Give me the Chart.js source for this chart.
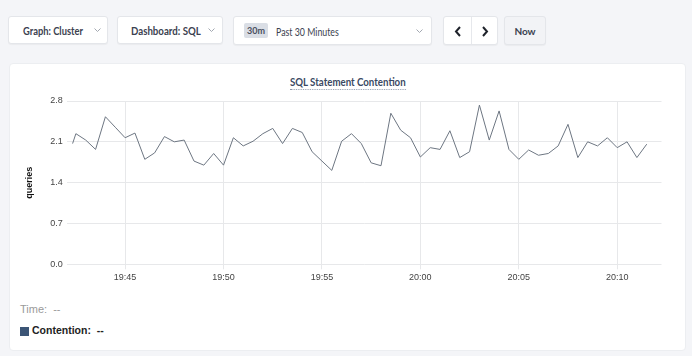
<!DOCTYPE html>
<html>
<head>
<meta charset="utf-8">
<script src="https://cdn.jsdelivr.net/npm/chart.js@4.4.1/dist/chart.umd.min.js"></script>
<style>
  html,body{margin:0;padding:0;}
  body{width:692px;height:356px;background:#f4f5f8;position:relative;overflow:hidden;font-family:Lato,"Open Sans",sans-serif;}
  .box{position:absolute;background:#fff;border:1px solid #e4e6ea;border-radius:3px;box-sizing:border-box;box-shadow:0 1px 1px rgba(0,0,0,0.04);}
  .lbl{position:absolute;top:50%;font-size:11px;font-weight:700;color:#3b4150;white-space:nowrap;transform-origin:0 50%;}
  .chev{position:absolute;top:50%;margin-top:-2px;}
  #card{position:absolute;left:9px;top:63px;width:677px;height:288px;background:#fff;border:1px solid #eceef1;border-radius:4px;box-sizing:border-box;}
  #title{position:absolute;left:0;width:100%;top:11px;text-align:center;font-size:11px;font-weight:700;color:#3a4963;}
  #title span{display:inline-block;border-bottom:1px dotted #8a95a8;padding-bottom:1px;transform:scaleX(0.88);}
  #cv{position:absolute;left:0;top:0;}
  .leg{position:absolute;font-family:"Liberation Sans",Arial,sans-serif;font-size:11px;white-space:nowrap;}
</style>
</head>
<body>
<div class="box" style="left:8px;top:16px;width:100px;height:28px;">
  <div class="lbl" style="left:14px;transform:translateY(-50%) scaleX(0.85);">Graph: Cluster</div>
  <svg class="chev" style="left:85px" width="7" height="4"><polyline points="0.5,0.5 3.5,3.5 6.5,0.5" fill="none" stroke="#a3a8b1" stroke-width="1"/></svg>
</div>
<div class="box" style="left:117px;top:16px;width:106px;height:28px;">
  <div class="lbl" style="left:13px;transform:translateY(-50%) scaleX(0.88);">Dashboard: SQL</div>
  <svg class="chev" style="left:90px" width="7" height="4"><polyline points="0.5,0.5 3.5,3.5 6.5,0.5" fill="none" stroke="#a3a8b1" stroke-width="1"/></svg>
</div>
<div class="box" style="left:233px;top:16px;width:199px;height:29px;">
  <div style="position:absolute;left:10px;top:6px;width:24px;height:15px;background:#dadee5;border-radius:2px;font-size:9px;font-weight:700;color:#4a5060;text-align:center;line-height:15px;">30m</div>
  <div class="lbl" style="left:42px;font-weight:400;color:#3b4150;transform:translateY(-50%) scaleX(0.8);">Past 30 Minutes</div>
  <svg class="chev" style="left:182px" width="7" height="4"><polyline points="0.5,0.5 3.5,3.5 6.5,0.5" fill="none" stroke="#a3a8b1" stroke-width="1"/></svg>
</div>
<div class="box" style="left:443px;top:16px;width:55px;height:29px;">
  <div style="position:absolute;left:27px;top:0;width:1px;height:27px;background:#e6e8ec;"></div>
  <svg style="position:absolute;left:10px;top:9px" width="8" height="11"><polyline points="6,1 2,5.5 6,10" fill="none" stroke="#1f232b" stroke-width="2"/></svg>
  <svg style="position:absolute;left:37px;top:9px" width="8" height="11"><polyline points="2,1 6,5.5 2,10" fill="none" stroke="#1f232b" stroke-width="2"/></svg>
</div>
<div class="box" style="left:504px;top:16px;width:42px;height:29px;background:#f2f3f6;">
  <div class="lbl" style="left:0;width:100%;text-align:center;font-size:10px;transform:translateY(-50%);">Now</div>
</div>

<div id="card">
  <div id="title"><span>SQL Statement Contention</span></div>
  <canvas id="cv" width="675" height="230"></canvas>
  <div class="leg" style="left:10px;top:239px;color:#9a9a9a;">Time:&nbsp; --</div>
  <div style="position:absolute;left:10px;top:263px;width:9px;height:9px;background:#3c5576;"></div>
  <div class="leg" style="left:22px;top:260px;color:#222;font-weight:700;font-size:10.5px;">Contention:&nbsp; --</div>
</div>

<script>
// ---- data ----
const sampleTimes = [
  "19:42:20","19:42:30","19:43:00","19:43:30","19:44:00","19:44:30","19:45:00","19:45:30",
  "19:46:00","19:46:30","19:47:00","19:47:30","19:48:00","19:48:30","19:49:00","19:49:30",
  "19:50:00","19:50:30","19:51:00","19:51:30","19:52:00","19:52:30","19:53:00","19:53:30",
  "19:54:00","19:54:30","19:55:00","19:55:30","19:56:00","19:56:30","19:57:00","19:57:30",
  "19:58:00","19:58:30","19:59:00","19:59:30","20:00:00","20:00:30","20:01:00","20:01:30",
  "20:02:00","20:02:30","20:03:00","20:03:30","20:04:00","20:04:30","20:05:00","20:05:30",
  "20:06:00","20:06:30","20:07:00","20:07:30","20:08:00","20:08:30","20:09:00","20:09:30",
  "20:10:00","20:10:30","20:11:00","20:11:30"
];
const contention = [
  2.07,2.24,2.13,1.97,2.53,2.35,2.17,2.25,
  1.80,1.91,2.19,2.10,2.13,1.77,1.70,1.90,
  1.70,2.17,2.03,2.11,2.24,2.33,2.07,2.33,
  2.26,1.93,1.77,1.61,2.11,2.24,2.07,1.74,
  1.69,2.59,2.30,2.17,1.84,2.00,1.97,2.29,
  1.83,1.93,2.73,2.13,2.63,1.97,1.80,1.96,
  1.87,1.90,2.03,2.40,1.83,2.10,2.03,2.17,
  2.00,2.10,1.83,2.06
];
const xTickLabels = ["19:45","19:50","19:55","20:00","20:05","20:10"];
const yTickValues = [0, 0.7, 1.4, 2.1, 2.8];
const yTickLabels = ["0.0","0.7","1.4","2.1","2.8"];
const windowStart = "19:42:02";
const windowEnd = "20:12:15";
const seriesName = "Contention";
const yAxisTitle = "queries";

// minutes since 19:00 from a clock string
function toMin(s){
  const p = s.split(":").map(Number);
  return (p[0]-19)*60 + p[1] + (p[2]||0)/60;
}

const points = sampleTimes.map((t,i)=>({x:toMin(t), y:contention[i]}));
const gridColor = "#e7e8ea";

new Chart(document.getElementById("cv"), {
  type: "line",
  data: { datasets: [{
    label: seriesName,
    data: points,
    borderColor: "#6d7682",
    borderWidth: 1,
    pointRadius: 0,
    tension: 0,
    fill: false
  }]},
  options: {
    responsive: false,
    animation: false,
    events: [],
    layout: { padding: { left: 10, right: 23.5, top: 37, bottom: 0 } },
    plugins: { legend: { display: false }, tooltip: { enabled: false }, title: { display: false } },
    scales: {
      x: {
        type: "linear",
        min: toMin(windowStart),
        max: toMin(windowEnd),
        afterBuildTicks: s => { s.ticks = xTickLabels.map(l => ({ value: toMin(l) })); },
        afterFit: s => { s.height = 29.7; },
        ticks: {
          callback: (v, i) => xTickLabels[i],
          font: { family: "'Liberation Sans', Arial, sans-serif", size: 9 },
          color: "#444",
          padding: 3,
          maxRotation: 0,
          autoSkip: false
        },
        grid: { color: gridColor, tickLength: 5, drawTicks: true },
        border: { display: false }
      },
      y: {
        min: 0,
        max: 2.8,
        afterBuildTicks: s => { s.ticks = yTickValues.map(v => ({ value: v })); },
        afterFit: s => { s.width = 46.7; },
        ticks: {
          callback: (v, i) => yTickLabels[i],
          font: { family: "'Liberation Sans', Arial, sans-serif", size: 9 },
          color: "#444",
          padding: 4
        },
        grid: { color: gridColor, drawTicks: false },
        border: { display: false },
        title: {
          display: true,
          text: yAxisTitle,
          font: { family: "'Liberation Sans', Arial, sans-serif", size: 9, weight: "bold" },
          color: "#111",
          padding: { top: 4, bottom: 0 }
        }
      }
    }
  }
});
</script>
</body>
</html>
